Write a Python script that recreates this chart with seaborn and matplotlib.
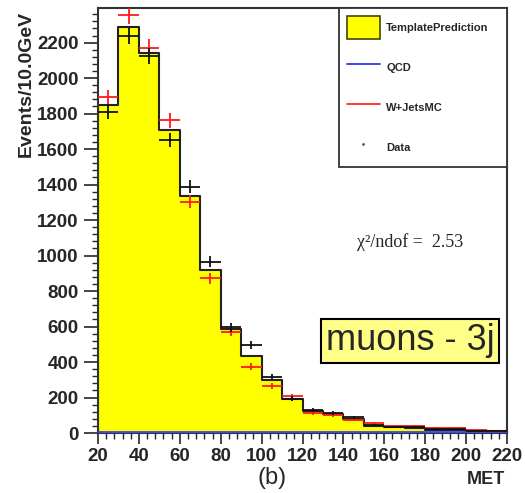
import numpy as np
import pandas as pd
import seaborn as sns
import matplotlib
matplotlib.use("Agg")
import matplotlib.pyplot as plt
from matplotlib.patches import Patch
from matplotlib.lines import Line2D
from matplotlib.ticker import MultipleLocator

# ---- data ----
bin_edges = list(range(20, 230, 10))
template = [1848, 2286, 2143, 1707, 1337, 918, 584, 434, 300, 190,
            122, 106, 80, 42, 33, 29, 19, 18, 10, 9]
wjets = [1891, 2355, 2171, 1763, 1303, 871, 571, 374, 265, 208,
         114, 101, 75, 55, 40, 38, 28, 26, 15, 14]
data = [1810, 2237, 2124, 1651, 1388, 965, 595, 496, 315, 192,
        130, 112, 88, 45, 36, 31, 22, 20, 12, 10]
qcd = [7, 7, 7, 6, 6, 6, 5, 5, 5, 5, 4, 4, 4, 4, 4, 4, 4, 4, 3, 3]
legend_labels = ["TemplatePrediction", "QCD", "W+JetsMC", "Data"]

edges = np.array(bin_edges, dtype=float)
centers = (edges[:-1] + edges[1:]) / 2
half = np.diff(edges) / 2
df = pd.DataFrame({"MET": centers, "template": template, "wjets": wjets,
                   "data": data, "qcd": qcd})

sns.set_style("ticks")
plt.rcParams["font.family"] = ["Liberation Sans", "DejaVu Sans"]

W, H = 525, 493
fig = plt.figure(figsize=(W / 100, H / 100), dpi=100)
ax = fig.add_axes([98 / W, 1 - 433 / H, (507 - 98) / W, (433 - 8) / H])

sns.histplot(data=df, x="MET", weights="template", bins=bin_edges, element="step",
             fill=True, color="#ffff00", alpha=1, edgecolor="#222222",
             linewidth=1.5, ax=ax)
sns.histplot(data=df, x="MET", weights="qcd", bins=bin_edges, element="step",
             fill=False, color="#4040ff", linewidth=2.0, ax=ax, zorder=3)

ax.errorbar(df["MET"], df["wjets"], xerr=half, yerr=np.sqrt(df["wjets"]),
            fmt="none", ecolor="#ff1a1a", elinewidth=1.3, capsize=0, zorder=4)
ax.errorbar(df["MET"], df["data"], xerr=half, yerr=np.sqrt(df["data"]),
            fmt="none", ecolor="#111111", elinewidth=1.3, capsize=0, zorder=5)

ax.set_xlim(20, 220)
ax.set_ylim(0, 2395)
ax.set_xlabel("")
ax.set_ylabel("")
ax.xaxis.set_major_locator(MultipleLocator(20))
ax.xaxis.set_minor_locator(MultipleLocator(4))
ax.yaxis.set_major_locator(MultipleLocator(200))
ax.yaxis.set_minor_locator(MultipleLocator(40))
ax.tick_params(which="major", direction="out", length=8, width=1.2,
               labelsize=13.5, pad=3)
ax.tick_params(axis="y", which="major", length=10, pad=4)
ax.tick_params(which="minor", direction="out", length=4, width=1)
for lab in ax.get_xticklabels() + ax.get_yticklabels():
    lab.set_fontweight("bold")
for sp in ax.spines.values():
    sp.set_visible(True)
    sp.set_linewidth(1.5)
    sp.set_color("#333333")
    sp.set_zorder(2)

# legend
handles = [Patch(facecolor="#ffff00", edgecolor="#444400", linewidth=1.2),
           Line2D([], [], color="#3030ff", lw=1.3),
           Line2D([], [], color="#ff2a2a", lw=1.3),
           Line2D([], [], color="#555555", marker=".", markersize=2, lw=0)]
leg = fig.legend(handles, legend_labels, loc="upper left",
                 bbox_to_anchor=(339 / W, 1 - 8 / H, 168 / W, 0),
                 mode="expand", fancybox=False, framealpha=1,
                 edgecolor="#333333", prop={"weight": "bold", "size": 8},
                 handlelength=2.9, handleheight=2.7, labelspacing=1.6,
                 borderpad=0.75, handletextpad=0.6, borderaxespad=0)
leg.get_frame().set_linewidth(1.3)

fig.text(410 / W, 1 - 242 / H, "χ²/ndof =  2.53", ha="center", va="center",
         fontsize=13, family=["Liberation Serif", "DejaVu Serif"])
fig.text(410 / W, 1 - 341 / H, "muons - 3j", ha="center", va="center",
         fontsize=26,
         bbox=dict(boxstyle="square,pad=0.12", facecolor="#ffff88",
                   edgecolor="black", linewidth=1.5))
fig.text(26 / W, 1 - 11 / H, "Events/10.0GeV", rotation=90, ha="center",
         va="top", fontsize=14, fontweight="bold")
fig.text(505 / W, 1 - 480 / H, "MET", ha="right", va="center",
         fontsize=13, fontweight="bold")
fig.text(272 / W, 1 - 478 / H, "(b)", ha="center", va="center", fontsize=17)

fig.savefig("out.png", dpi=100)
